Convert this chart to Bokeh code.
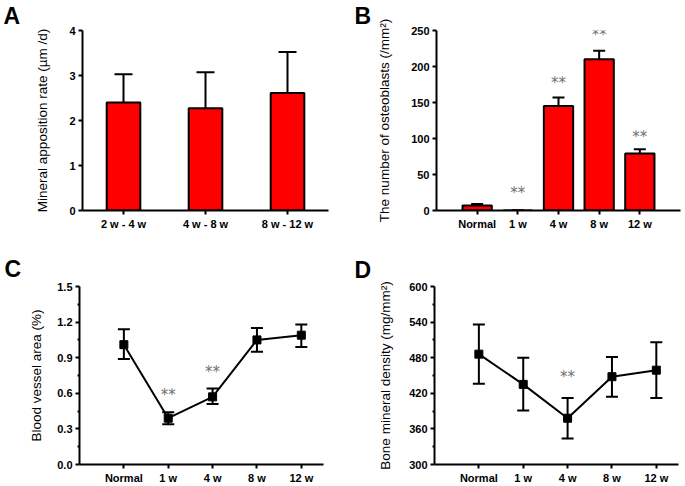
from bokeh.plotting import figure
from bokeh.layouts import column, row
from bokeh.models import (ColumnDataSource, Whisker, TeeHead, FixedTicker,
                          Range1d, FactorRange, PrintfTickFormatter)
from bokeh.embed import file_html
from bokeh.resources import INLINE
from bokeh.core.properties import value

# ---------------- data ----------------
a_cats = ["2 w - 4 w", "4 w - 8 w", "8 w - 12 w"]
a_mean = [2.40, 2.27, 2.61]
a_lo = [1.73, 1.43, 1.68]
a_hi = [3.03, 3.07, 3.52]

groups = ["Normal", "1 w", "4 w", "8 w", "12 w"]

b_mean = [7, 0, 145, 210, 79]
b_lo = [5, 0, 133, 197, 73]
b_hi = [9, 0, 157, 222, 85]
b_star_groups = ["1 w", "4 w", "8 w", "12 w"]
b_star_y = [30, 182, 250, 107]

c_mean = [1.01, 0.39, 0.57, 1.05, 1.09]
c_lo = [0.89, 0.34, 0.51, 0.95, 0.99]
c_hi = [1.14, 0.44, 0.64, 1.15, 1.18]
c_star_groups = ["1 w", "4 w"]
c_star_y = [0.62, 0.815]

d_mean = [486, 435, 378, 448, 459]
d_lo = [436, 391, 344, 414, 412]
d_hi = [536, 480, 412, 481, 506]
d_star_groups = ["4 w"]
d_star_y = [455]

a_yticks = [0, 1, 2, 3, 4]
b_yticks = [0, 50, 100, 150, 200, 250]
c_yticks = [0, 0.3, 0.6, 0.9, 1.2, 1.5]
d_yticks = [300, 360, 420, 480, 540, 600]

FONT = "Liberation Sans"
STAR = "#707070"


def make_fig(w, h, left, right, top, bottom, x_range, y_range, yticks,
             minor, ylabel, lab_standoff, letter, letter_off, letter_standoff):
    p = figure(width=w, height=h, x_range=x_range, y_range=Range1d(*y_range),
               output_backend="svg", toolbar_location=None,
               min_border_left=left, min_border_right=right,
               min_border_top=top, min_border_bottom=bottom)
    p.outline_line_color = None
    p.grid.visible = False
    p.background_fill_color = "white"
    p.border_fill_color = "white"
    p.title.text = letter
    p.title.align = "left"
    p.title.vertical_align = "top"
    p.title.offset = letter_off
    p.title.standoff = letter_standoff
    p.title.text_font = FONT
    p.title.text_font_style = "bold"
    p.title.text_font_size = "23px"
    p.title.text_color = "black"
    for ax in (p.xaxis[0], p.yaxis[0]):
        ax.axis_line_width = 2
        ax.axis_line_color = "black"
        ax.major_tick_line_width = 2
        ax.major_tick_line_color = "black"
        ax.major_tick_in = 0
        ax.major_tick_out = 4
        ax.major_label_text_font = FONT
        ax.major_label_text_font_style = "bold"
        ax.major_label_text_font_size = "11px"
        ax.major_label_text_color = "black"
        ax.major_label_standoff = 3
    p.xaxis.minor_tick_line_color = None
    mids = [(a + b) / 2 for a, b in zip(yticks[:-1], yticks[1:])] if minor else []
    p.yaxis.ticker = FixedTicker(ticks=yticks, minor_ticks=mids)
    if minor:
        p.yaxis.minor_tick_line_width = 2
        p.yaxis.minor_tick_line_color = "black"
        p.yaxis.minor_tick_in = 0
        p.yaxis.minor_tick_out = 2
    else:
        p.yaxis.minor_tick_line_color = None
    p.yaxis.axis_label = ylabel
    p.yaxis.axis_label_text_font = FONT
    p.yaxis.axis_label_text_font_style = "normal"
    p.yaxis.axis_label_text_font_size = "13.5px"
    p.yaxis.axis_label_text_color = "black"
    p.yaxis.axis_label_standoff = lab_standoff
    return p


def whiskers(p, src, base, size):
    p.add_layout(Whisker(source=src, base=base, upper="hi", lower="lo",
                         line_width=2, line_color="black",
                         upper_head=TeeHead(size=size, line_width=2, line_color="black"),
                         lower_head=TeeHead(size=size, line_width=2, line_color="black")))


def group_axis(p, xs):
    p.xaxis.ticker = FixedTicker(ticks=xs)
    p.xaxis.major_label_overrides = {x: g for x, g in zip(xs, groups)}


def stars(p, sgroups, sy):
    sx = [groups.index(g) + 1 for g in sgroups]
    p.text(x=sx, y=sy, text=["**"] * len(sx), text_font=value("DejaVu Sans"),
           text_font_size="15px", text_color=STAR, text_align="center",
           text_baseline="middle", y_offset=4)


xs = list(range(1, len(groups) + 1))

# ---------------- A ----------------
pA = make_fig(342, 243, 82, 14, 30, 32, FactorRange(factors=a_cats), (0, 4),
              a_yticks, False, "Mineral apposition rate (\u00b5m /d)", 16,
              "A", -79, 0)
srcA = ColumnDataSource(dict(x=a_cats, top=a_mean, lo=a_lo, hi=a_hi))
pA.vbar(x="x", top="top", width=0.41, source=srcA, fill_color="#ff0000",
        line_color="black", line_width=2)
whiskers(pA, srcA, "x", 18)

# ---------------- B ----------------
pB = make_fig(343, 243, 94, 5, 29, 33, Range1d(0, 6), (0, 250),
              b_yticks, False, "The number of osteoblasts (/mm\u00b2)", 16,
              "B", -82, 0)
group_axis(pB, xs)
srcB = ColumnDataSource(dict(x=xs, top=b_mean, lo=b_lo, hi=b_hi))
pB.vbar(x="x", top="top", width=0.72, source=srcB, fill_color="#ff0000",
        line_color="black", line_width=2)
whiskers(pB, srcB, "x", 12)
stars(pB, b_star_groups, b_star_y)

# ---------------- C ----------------
pC = make_fig(342, 243, 79, 19, 41, 20, Range1d(0, 5.5), (0, 1.5),
              c_yticks, True, "Blood vessel area (%)", 10, "C", -75, 5)
pC.yaxis.formatter = PrintfTickFormatter(format="%.1f")
group_axis(pC, xs)
srcC = ColumnDataSource(dict(x=xs, y=c_mean, lo=c_lo, hi=c_hi))
whiskers(pC, srcC, "x", 12)
pC.line(x="x", y="y", source=srcC, line_width=2, line_color="black")
pC.scatter(x="x", y="y", source=srcC, marker="square", size=8,
           fill_color="black", line_color="black")
stars(pC, c_star_groups, c_star_y)

# ---------------- D ----------------
pD = make_fig(343, 243, 92, 7, 43, 20, Range1d(0, 5.5), (300, 600),
              d_yticks, True, "Bone mineral density (mg/mm\u00b2)", 13, "D", -80, 3)
group_axis(pD, xs)
srcD = ColumnDataSource(dict(x=xs, y=d_mean, lo=d_lo, hi=d_hi))
whiskers(pD, srcD, "x", 12)
pD.line(x="x", y="y", source=srcD, line_width=2, line_color="black")
pD.scatter(x="x", y="y", source=srcD, marker="square", size=8,
           fill_color="black", line_color="black")
stars(pD, d_star_groups, d_star_y)

layout = column(row(pA, pB), row(pC, pD))
open("out.html", "w").write(file_html(layout, INLINE))
